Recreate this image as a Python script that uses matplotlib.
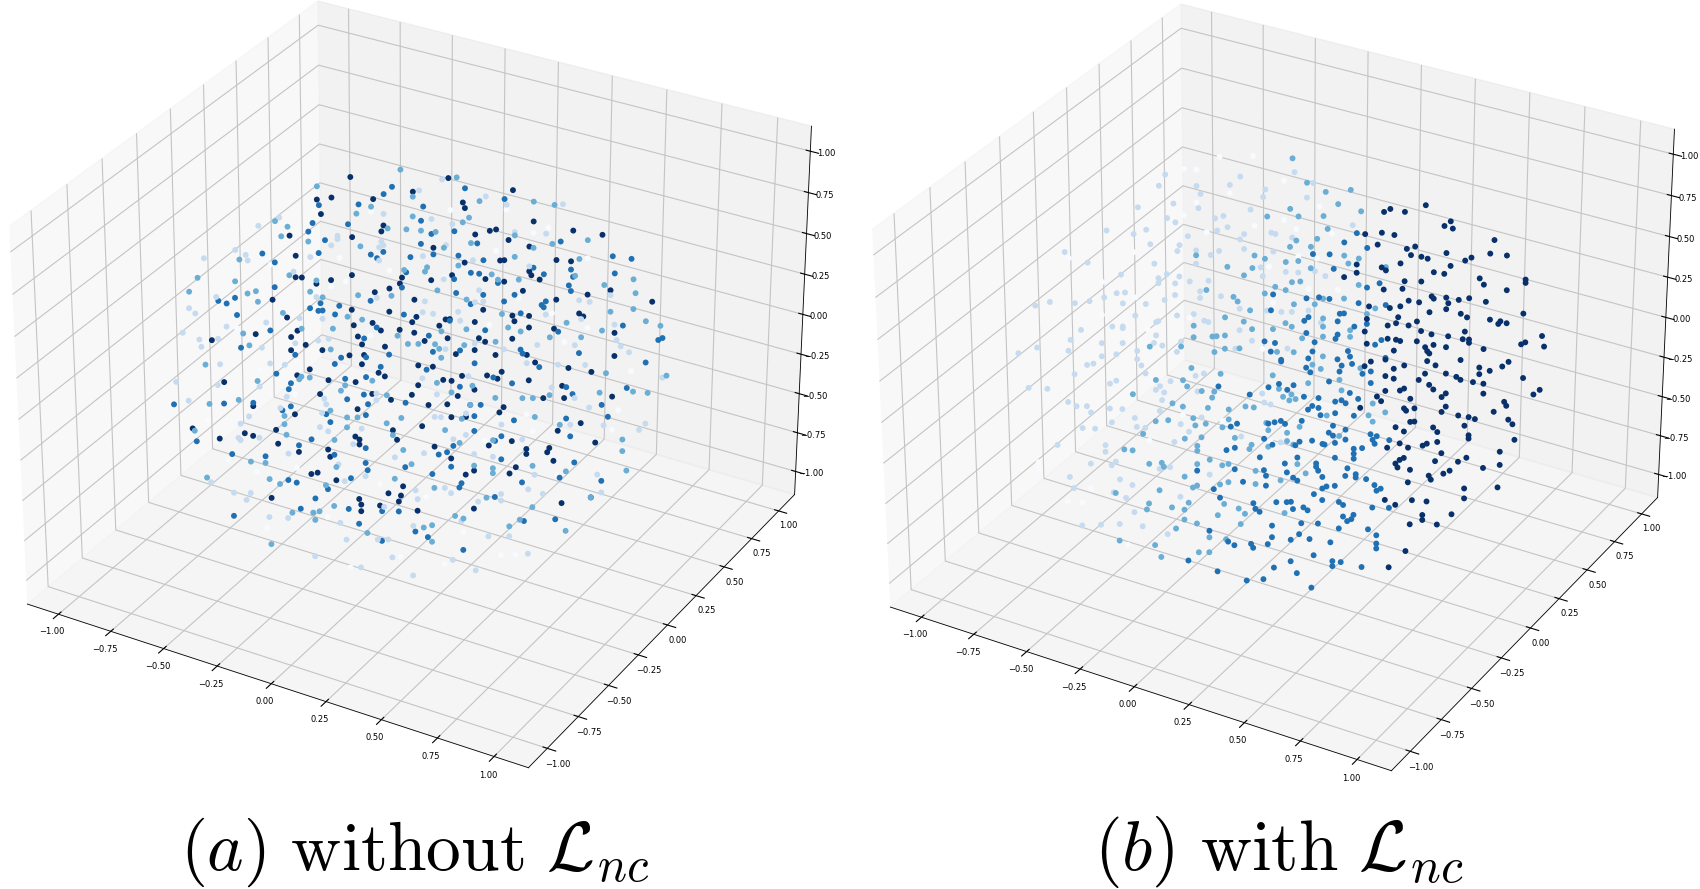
import matplotlib
matplotlib.use('Agg')
import matplotlib.pyplot as plt
import numpy as np

plt.rcParams['mathtext.fontset'] = 'cm'
plt.rcParams['grid.color'] = '#c4c4c4'
plt.rcParams['grid.linewidth'] = 0.8
plt.rcParams['axes.linewidth'] = 0.6

# (x, z) per colour class, taken along the y=0 plane
a_white = [(-.20,.88),(-.35,.54),(-.11,.56),(-.32,.41),(-.68,.37),(-.39,.35),(-.84,-.08),(-.20,.13),
(.18,1.04),(.45,1.15),(.58,1.06),(.65,1.12),(.40,.88),(.84,1.01),(.15,.62),(.51,.64),(.67,.61),(.37,.42),(.84,.59),(.73,.46),
(-.73,-.29),(-.56,-.37),(-.98,-.69),(-.88,-.89),(-.74,-.91),(-.55,-.81),(-.15,-.75),(-.65,-.94),(-.40,-1.05),(-.69,-1.23),(-.29,-1.31),(-.05,-1.15),
(1.05,.41),(.99,.15),(.55,-.05),(.58,-.14),(.35,-.29),(.96,.02),(.16,-1.11),(.43,-.95),(.50,-.92),(.25,-.88),(.70,-.36),(.07,-.74)]

a_light = [(-.64,.67),(-.74,.58),(-.14,.89),(-.36,.67),(-.36,.65),(-.39,.60),(-.15,.72),(-.14,.70),(-.16,.68),(-.85,.39),(-1.00,.28),(-.80,.38),(-.79,.35),(-.49,.49),(-.16,.60),(-.57,.37),(-.94,.07),(-1.07,-.05),(-1.04,-.07),(-.46,.26),(-.17,.37),(-.54,.10),(-.43,.14),(-.70,.01),(-.89,-.09),(-1.10,-.21),(-1.02,-.22),(-.93,-.18),(-1.01,-.26),(-.72,-.15),(-.56,-.06),(-.40,.03),(-.45,0),
(.14,1.21),(.03,1.10),(.35,1.19),(.45,1.18),(.72,1.29),(.09,.95),(.19,.96),(.49,1.03),(.64,1.08),(.16,.82),(.05,.71),(.29,.78),(.56,.85),(.15,.61),(.32,.61),(.95,.83),(.06,.44),(.34,.55),(.30,.53),(.80,.74),(.85,.75),(.05,.37),(.10,.38),(.22,.44),(.64,.59),(.23,.39),(.81,.63),(.97,.66),(.60,.39),(.98,.57),(1.00,.54),(1.04,.52),(.78,.46),(.30,.28),(.16,.19),(.44,.30),
(-1.13,-.52),(-.92,-.33),(-.68,-.23),(-.61,-.21),(-.93,-.46),(-.73,-.39),(-.60,-.40),(-1.07,-.61),(-.42,-.34),(-.41,-.37),(-.17,-.25),(-.17,-.21),(-.63,-.48),(-.78,-.59),(-.43,-.43),(-.82,-.65),(-.44,-.52),(-.24,-.45),(-.40,-.53),(-.83,-.74),(-.82,-.75),(-.73,-.70),(-.28,-.56),(-.59,-.74),(-.08,-.56),(-.35,-.71),(-.22,-.73),(-.32,-.80),(-.96,-1.06),(-.85,-1.08),(-.77,-1.05),(-.79,-1.10),(-.13,-.88),(-.68,-1.16),(-.59,-1.13),(-.34,-1.06),(-.31,-1.15),(-.16,-1.09),(-.11,-1.07),(-.46,-1.31),(-.24,-1.29),(-.09,-1.17),
(.05,-.03),(.27,.07),(.55,.26),(.70,.31),(.83,.36),(1.20,.43),(.12,-.10),(.67,.16),(.78,.14),(.85,.11),(.26,-.16),(.11,-.24),(.14,-.23),(.43,-.16),(.76,-.03),(.92,.03),(1.12,.12),(1.09,.07),(.53,-.21),(.20,-.34),(.26,-.29),(.06,-.48),(.30,-.39),(.39,-.37),(.59,-.40),(.89,-.28),(.16,-.65),(.56,-.50),(.91,-.38),(.63,-.50),(.19,-.67),(.02,-.72),(.03,-.77),(.43,-.58),(.43,-.62),(.32,-.67),(.24,-.82),(.01,-.94),(.37,-.86),(.47,-.82),(.56,-.89),(.20,-1.07),(.31,-1.09),(.01,-1.24)]

a_mid = [(-.06,1.19),(-.46,.93),(-.20,.91),(-.27,.84),(-.66,.64),(-.60,.63),(-.63,.56),(-.12,.81),(-.03,.84),(-.50,.58),(-.25,.65),(-.83,.34),(-1.03,.15),(-.85,.20),(-.59,.34),(-1.07,.05),(-.79,.15),(-.75,.18),(-.74,.12),(-.49,.28),(-.43,.27),(-.26,.35),(-.10,.41),(-.62,.10),(-.31,.20),(-.24,.21),(-.38,.10),(-.53,.04),(-.81,-.10),(-.78,-.16),(-.39,-.03),(-.07,.18),(-.02,.15),(-.04,.59),(-.46,.36),
(.21,1.25),(0,1.05),(.32,1.15),(.58,1.25),(.68,1.27),(.27,1.03),(.24,.99),(0,.93),(.04,.86),(.11,.88),(.49,1.01),(.28,.88),(.15,.80),(.67,1.03),(.84,1.12),(.58,.97),(.49,.88),(.80,.99),(.07,.65),(.22,.72),(.06,.62),(.38,.73),(.41,.71),(.51,.75),(.78,.88),(.12,.53),(.92,.88),(1.06,.97),(1.07,.89),(.26,.53),(.43,.51),(1.06,.79),(.95,.73),(.74,.58),(1.12,.74),(1.19,.74),(.26,.35),(.46,.44),(.14,.29),(.52,.44),(.91,.60),(.66,.46),(.81,.52),(.11,.20),(.03,.17),(.25,.25),(.40,.33),(.13,.18),(.14,.13),
(-.99,-.36),(-.74,-.36),(-.54,-.27),(-.53,-.25),(-.49,-.24),(-.19,-.14),(-.32,-.22),(-.34,-.26),(-.83,-.51),(-.97,-.59),(-.39,-.40),(-.12,-.20),(-.61,-.52),(-.61,-.57),(-.31,-.41),(-.26,-.39),(-.12,-.37),(-.05,-.31),(-.31,-.47),(-1.04,-.78),(-.60,-.63),(-.09,-.43),(-.37,-.57),(-.77,-.86),(-.70,-.84),(-.04,-.50),(-.36,-.73),(-.68,-.93),(-.08,-.69),(-.98,-1.04),(-.63,-.94),(-.41,-.86),(-.37,-.97),(-.57,-1.09),(-.47,-1.05),(-.44,-1.03),(-.46,-1.09),(-.21,-1.07),(-.67,-1.32),
(.12,-.03),(.19,-.06),(.29,.02),(.40,-.01),(.53,.04),(.58,.06),(.66,.11),(.90,.22),(.93,.35),(1.06,.29),(1.13,.31),(1.22,.45),(.28,-.10),(.24,-.20),(.59,-.05),(.71,-.05),(.16,-.30),(.39,-.27),(.23,-.35),(1.01,-.02),(1.01,-.09),(.58,-.35),(.30,-.46),(.39,-.44),(.39,-.47),(1.03,-.20),(.74,-.32),(.11,-.67),(.86,-.43),(.36,-.63),(.21,-.80),(.25,-.80),(.58,-.60),(.06,-.93),(.10,-.90),(.47,-.76),(.52,-.70),(.74,-.68),(.10,-1.00),(0,-.57)]

a_blue = [(-.10,1.07),(-.14,1.01),(-.45,.82),(-.26,.90),(-.48,.70),(-.50,.64),(-.42,.62),(-.31,.76),(-.72,.42),(-.66,.39),(-.45,.53),(-.20,.62),(-.17,.61),(-.14,.66),(-.01,.68),(-.66,.24),(-.85,.10),(-.93,.05),(-.89,.05),(-.84,0),(-.49,.18),(-.44,.23),(-.45,.18),(-.43,.19),(-.35,.25),(-.37,.19),(-.20,.34),(-.17,.19),(-.68,-.03),(-.82,-.19),(-.56,-.13),(-.23,.10),(-.11,.05),(-.04,.32),(-.05,.48),(-.03,.58),(-.34,-.06),(-.22,-.01),
(.25,1.20),(.44,1.21),(.05,1.01),(.04,.92),(.20,.92),(.09,.86),(.31,.89),(.04,.78),(.10,.74),(.22,.78),(.34,.80),(.71,1.06),(.96,1.07),(1.05,1.09),(.58,.85),(.76,.91),(.28,.70),(.32,.71),(.63,.83),(.20,.63),(.97,.97),(.77,.87),(.41,.69),(.75,.81),(.76,.78),(.21,.55),(.34,.59),(.49,.65),(.44,.59),(.28,.51),(.64,.67),(.62,.64),(.63,.63),(.52,.55),(.18,.37),(1.01,.67),(.70,.51),(.35,.38),(.08,.24),(.23,.21),(.10,.15),(.52,.33),(.53,.31),(.80,.42),(1.18,.65),(1.20,.67),
(-1.14,-.66),(-.90,-.56),(-.76,-.50),(-.65,-.28),(-.58,-.31),(-.59,-.35),(-.37,-.11),(-.15,-.04),(-.32,-.18),(-.22,-.13),(-.23,-.24),(-.31,-.30),(-.58,-.45),(-.62,-.49),(-.41,-.43),(-.21,-.29),(-.22,-.36),(-.39,-.47),(-.03,-.21),(-1.03,-.84),(-.48,-.61),(-.54,-.67),(-.86,-.85),(-.70,-.80),(-.37,-.66),(-.22,-.56),(-.22,-.65),(-.21,-.69),(-.59,-.90),(-.55,-.90),(-.29,-.77),(-.40,-.88),(-.85,-1.22),(-.46,-.96),(-.53,-1.05),(-.30,-.96),(-.14,-.91),(-.06,-.88),(-.25,-1.03),(-.14,-1.09),(-.03,-.60),
(.07,.03),(.30,.16),(.61,.26),(.39,.11),(.23,-.01),(1.12,.49),(1.03,.30),(.74,.19),(.48,.11),(.77,.16),(.91,.15),(.33,-.08),(.28,-.10),(.94,.09),(.49,-.11),(.74,0),(.30,-.16),(.30,-.25),(.76,-.10),(.43,-.23),(.40,-.27),(.20,-.38),(.13,-.46),(.17,-.43),(.43,-.37),(.78,-.25),(.19,-.51),(.10,-.59),(.71,-.37),(.53,-.47),(.91,-.31),(.24,-.59),(.23,-.62),(.40,-.61),(.02,-.97),(.08,-.98),(.25,-.99),(.69,-.63),(.54,-.70)]

a_dark = [(-.30,1.05),(-.39,.89),(-.46,.85),(-.19,.96),(-.44,.77),(-.59,.58),(-.14,.82),(-.15,.78),(-.29,.69),(-.56,.47),(-.56,.34),(-.53,.35),(-.39,.39),(-.46,.34),(-.29,.46),(-.05,.54),(-.06,.50),(-.18,.40),(-.11,.45),(-.67,.16),(-.29,.25),(-.11,.31),(-.60,.08),(-.28,.16),(-.19,.21),(-.15,.18),(-.06,.22),(-.75,-.08),(-.55,.02),(-.58,-.03),(-.26,.10),(-.96,-.20),(-.51,-.05),(-.24,.06),(-.58,-.11),(-.43,-.05),(-.13,.09),(-.30,-.03),(-.23,0),
(.17,1.23),(0,1.08),(.48,1.28),(.24,1.11),(.25,1.08),(.58,1.13),(.37,.99),(.40,1.01),(.30,.94),(.46,.97),(.77,1.15),(.91,1.18),(.56,.97),(.10,.78),(.69,.94),(.76,.96),(.42,.83),(.44,.84),(.25,.75),(.56,.82),(.57,.80),(.19,.65),(.09,.58),(.35,.69),(.44,.71),(.61,.79),(.95,.86),(.53,.69),(.84,.79),(.69,.70),(1.15,.87),(.01,.43),(.34,.50),(.80,.66),(.82,.65),(.56,.55),(.48,.52),(.02,.33),(.16,.37),(.18,.38),(.30,.41),(.49,.49),(0,.29),(.13,.32),(.56,.48),(.68,.52),(.97,.61),(.01,.23),(.17,.26),(.32,.32),(.35,.31),(.48,.38),(.06,.20),(.30,.24),(.40,.25),(.55,.31),(.97,.47),(.21,.18),
(-.90,-.43),(-.55,-.25),(-.49,-.19),(-.40,-.22),(-.27,-.18),(-.16,-.08),(-.13,-.09),(-.24,-.06),(-.44,-.32),(-.19,-.22),(-.10,-.22),(-.76,-.52),(-.56,-.49),(-.26,-.34),(-1.05,-.77),(-.92,-.78),(-.80,-.70),(-.76,-.70),(-.65,-.62),(-.64,-.70),(-.27,-.51),(-.25,-.52),(-.25,-.55),(-.09,-.40),(-.07,-.45),(-.40,-.64),(-.39,-.68),(-.54,-.71),(-.48,-.82),(-.45,-.80),(-.36,-.81),(-.67,-1.04),(-.25,-.88),(-.24,-.91),(-.24,-.95),(-.15,-.88),(-.11,-.79),(-.04,-.72),(-.05,-.78),(-.06,-.82),
(.03,.04),(.10,.06),(.24,.06),(.36,.11),(.41,.11),(.43,.16),(.15,0),(.19,.01),(.03,-.08),(.56,.16),(.59,.28),(.75,.31),(.86,.33),(.30,0),(.22,-.07),(0,-.15),(.72,.19),(.73,.12),(.63,.08),(.96,.22),(.08,-.18),(.17,-.14),(.44,-.05),(.42,-.09),(.19,-.21),(.26,-.18),(.81,0),(.70,-.09),(.05,-.32),(.48,-.24),(.37,-.31),(.11,-.42),(.88,-.09),(.55,-.26),(.55,-.29),(.66,-.21),(.65,-.24),(.68,-.28),(.19,-.46),(.50,-.39),(.30,-.49),(.26,-.53),(.47,-.44),(.30,-.72),(.72,-.52),(.03,-.84),(.86,-.43)]

b_white = [(-.42,1.07),(-.36,1.09),(-.25,1.21),(-.09,1.28),(-.20,1.01),(-.36,.89),(-.42,.79),(-.31,.73),(-.66,.47),(-.97,.31),(-.81,.23),(-.65,.20),(-.81,.03),(-.59,.03),(-.08,.86),(-.39,.18),
(.06,1.19),(.23,1.10),(.06,.95),(.12,.92),(.29,.96),(.13,.76),(-.01,.64),(.22,.78),(.18,.58),(.32,.63),(.01,.43),(-.04,.13),
(-1.11,-.98),(-1.11,-1.02),(-.58,-.64),(-.97,-1.16),(-.90,-1.14),(-.68,-1.31),(-.86,-1.04),(-.42,-.42),(-.23,-.38),(0,-.41)]

b_light = [(-.51,1.00),(-.54,.92),(-.15,1.13),(-.20,1.06),(-.36,.99),(-.34,.95),(-.47,.84),(-.64,.75),(-.35,.86),(-.10,.95),(-.27,.83),(-.23,.86),(-.50,.74),(-.46,.73),(-.21,.80),(-.26,.76),(-.79,.55),(-.66,.58),(-.60,.63),(-.40,.67),(-.15,.75),(-.13,.79),(-.58,.55),(-.44,.60),(-.45,.56),(-.36,.60),(-.25,.64),(-.13,.70),(-.99,.34),(-.29,.60),(-.88,.32),(-.36,.52),(-.56,.44),(-.72,.31),(-.50,.40),(-.54,.36),(-.54,.33),(-.44,.41),(-.46,.36),(-.39,.40),(-.30,.44),(-.74,.19),(-.70,.21),(-.80,.14),(-.46,.29),(-.34,.36),(-.24,.37),(-1.13,-.04),(-1.06,.01),(-.94,.05),(-.87,.09),(-.71,.14),(-.60,.18),(-.51,.24),(-.34,.32),(-.15,.33),(-.65,.09),(-.45,.17),(-.37,.21),(-.76,-.02),(-.71,0),(-.71,-.01),(-.55,.09),(-.54,.10),(-.32,.19),(-.30,.19),(-.91,-.10),(-.15,.20),(-.55,.01),(-.96,-.18),(-.81,-.14),(-.71,-.10),(-.56,-.04),(-.52,-.04),(-.43,.02),(-.09,.16),(-1.12,-.29),(-.97,-.25),(-.64,-.12),(-1.21,-.36),(-.81,-.22),(-.74,-.18),(-.45,-.05),(-.64,-.17),(-.17,.08),
(.11,1.26),(.20,1.23),(-.03,1.10),(-.04,1.05),(.17,1.13),(.39,1.05),(0,.85),(.02,.85),(.10,.86),(.01,.74),(.07,.64),(.13,.66),(.21,.70),(.26,.69),(-.05,.62),(-.04,.57),(.05,.39),(.10,.41),(.18,.45),(.24,.40),(-.02,.37),(.08,.18),
(-.88,-.30),(-.85,-.28),(-.94,-.38),(-.62,-.20),(-.60,-.24),(-1.16,-.55),(-1.07,-.52),(-.77,-.37),(-.74,-.34),(-.48,-.24),(-.36,-.16),(-.32,-.13),(-.55,-.32),(-.53,-.29),(-.51,-.32),(-.97,-.56),(-.93,-.57),(-.88,-.55),(-.86,-.58),(-.77,-.52),(-.71,-.50),(-.52,-.37),(-.53,-.44),(-.35,-.25),(-.65,-.53),(-.76,-.60),(-.90,-.69),(-.84,-.67),(-.64,-.58),(-.60,-.57),(-.43,-.48),(-.33,-.40),(-.39,-.51),(-.46,-.60),(-1.02,-.84),(-.79,-.75),(-.79,-.79),(-.86,-.89),(-.76,-.86),(-.74,-.83),(-.53,-.79),(-.48,-.76),(-.96,-1.01),(-.72,-.93),(-.66,-.94),(-.94,-1.07),(-.75,-1.02),(-.69,-1.03),(-.43,-.92),(-.65,-1.10),(-.90,-1.28),(-.81,-1.24),(-.72,-1.20),(-.61,-1.17),(-.49,-1.17),(-.29,-.73),(-.14,-.44),
(-.03,-.19),(0,-.19),(.05,-.40),(-.04,-.14)]

b_mid = [(-.36,.57),(-.08,.68),(-.21,.56),(-.09,.60),(-.13,.54),(-.31,.38),(-.18,.39),(-.16,.37),(-.10,.34),(-.22,.25),(-.13,.26),(-.09,.23),(-.37,.14),(-.37,.07),(-.28,.11),(-.26,.12),(-.22,.14),(-.58,-.07),(-.43,-.01),(-.22,.06),(-.15,.09),(-.27,.02),
(.10,1.34),(.17,1.22),(.38,1.26),(.26,1.20),(.32,1.15),(.09,1.03),(.43,1.15),(.13,1.00),(.25,1.05),(-.02,.94),(.27,.98),(.22,.90),(.12,.85),(.09,.80),(.19,.84),(.35,.85),(.42,.86),(.37,.81),(-.03,.68),(.07,.70),(.13,.73),(.19,.71),(.55,.86),(.10,.59),(.14,.61),(.42,.70),(.02,.53),(.07,.53),(-.03,.47),(.35,.59),(.25,.55),(.11,.46),(.21,.50),(.50,.59),(.46,.54),(.25,.43),(.07,.33),(.10,.32),(.01,.27),(.25,.38),(.38,.41),(.25,.32),(.38,.37),(.15,.27),(.03,.14),(.11,.17),(.25,.20),
(-.55,-.26),(-.42,-.21),(-.38,-.12),(-.40,-.24),(-.24,-.10),(-.33,-.24),(-.27,-.22),(-.28,-.26),(-.66,-.39),(-.47,-.37),(-.42,-.37),(-.30,-.33),(-.20,-.30),(-.12,-.25),(-.08,-.24),(-.55,-.51),(-.49,-.48),(-.37,-.42),(-.36,-.46),(-.31,-.43),(-.23,-.42),(-.20,-.36),(-.61,-.61),(-.41,-.56),(-.33,-.52),(-.17,-.46),(-.70,-.74),(-.66,-.73),(-.35,-.58),(-.35,-.61),(-.29,-.64),(-.09,-.47),(-.10,-.50),(-.58,-.78),(-.52,-.75),(-.51,-.77),(-.35,-.69),(-.23,-.65),(-.20,-.63),(-.41,-.79),(-.07,-.62),(-.35,-.82),(-.37,-.84),(-.24,-.77),(-.20,-.74),(-.07,-.70),(-.53,-.92),(-.74,-1.02),(-.58,-1.02),(-.39,-.94),(-.22,-.88),(-.47,-1.00),(-.59,-1.06),(-.41,-.99),(-.15,-.88),(-.12,-.90),(-.25,-.96),(-.41,-1.05),(-.35,-1.05),(-.14,-.97),(-.45,-1.12),(-.29,-1.11),(-.72,-1.30),(-.21,-1.09),(-.55,-1.26),(-.34,-1.22),(-.29,-1.20),(-.52,-1.32),
(.20,.13),(.01,-.01),(.33,.09),(.18,.01),(.04,-.08),(.10,-.09),(.06,-.12),(.12,-.11),(.09,-.13),(.34,.03),(.24,.12),(.43,.20),(.49,.01),(.55,-.02),(.27,-.15),(.47,-.07),(.49,-.10),(-.02,-.31),(.14,-.27),(-.01,-.35),(.08,-.33),(.33,-.25),(.08,-.38),(-.01,-.45),(.11,-.39),(.13,-.50),(.17,-.54),(.05,-.63),(.07,-.82)]

b_blue = [(.35,.93),(.41,1.01),(.46,.94),(.20,.80),(.28,.83),(.30,.75),(.52,.75),(.46,.70),(.17,.52),(.23,.55),(.28,.56),(.42,.59),(.55,.63),(.01,.48),(0,.38),(.35,.50),(.33,.49),(.18,.41),(.16,.38),(.32,.44),(.46,.48),(.40,.44),(.17,.31),(.32,.36),(.31,.33),(-.03,.18),(.02,.19),(.21,.27),(.53,.41),(.50,.37),(0,.13),(.20,.21),(.37,.28),(.05,.10),(.18,.16),(.38,.25),(.32,.21),(.55,.31),
(-.25,-.18),(-.10,-.17),(-.19,-.40),(-.16,-.37),(-.21,-.55),(-.17,-.52),(-.35,-.73),(-.17,-.65),(-.13,-.71),(-.27,-.81),(-.24,-.85),(-.08,-.82),(-.07,-.85),(-.29,-1.07),(-.20,-1.10),(-.17,-1.11),(-.09,-1.07),(-.08,-1.09),(-.39,-1.29),(-.25,-1.30),(-.11,-1.30),
(.05,.09),(.17,.10),(.19,.08),(.34,.18),(.39,.21),(.33,.14),(.44,.17),(.48,.20),(.28,.06),(.48,.13),(.04,-.05),(-.01,-.09),(.08,-.07),(.11,-.03),(.16,-.08),(.23,-.06),(.38,.03),(.42,.01),(.34,-.03),(.31,-.05),(.36,-.04),(.20,-.12),(.18,-.15),(.23,-.12),(.31,-.12),(.24,-.16),(.40,-.10),(.02,-.29),(.05,-.27),(-.01,-.31),(.07,-.28),(.15,-.23),(.30,-.20),(.36,-.20),(.28,-.25),(.30,-.26),(-.03,-.41),(.01,-.43),(.14,-.36),(.20,-.33),(.12,-.39),(.25,-.33),(.26,-.33),(.31,-.30),(.36,-.26),(.49,-.21),(.50,-.23),(.51,-.18),(.48,-.18),(.57,-.18),(.44,-.28),(.40,-.30),(.40,-.33),(.31,-.39),(.40,-.36),(.13,-.46),(-.05,-.53),(.07,-.52),(.22,-.46),(.22,-.48),(.23,-.50),(.37,-.43),(-.03,-.60),(-.02,-.63),(.08,-.57),(.11,-.59),(.13,-.60),(.25,-.53),(.36,-.48),(.41,-.45),(.41,-.47),(.46,-.46),(.50,-.48),(.31,-.56),(.27,-.58),(.25,-.60),(-.02,-.69),(.51,-.51),(.53,-.49),(.21,-.65),(.25,-.67),(.33,-.65),(.35,-.66),(.49,-.62),(.57,-.59),(.03,-.77),(.08,-.75),(.10,-.74),(.11,-.78),(.16,-.75),(.18,-.76),(-.05,-.86),(.15,-.85),(.23,-.82),(.01,-.92),(.35,-.73),(.40,-.70),(.39,-.73),(.37,-.75),(.33,-.81),(.47,-.76),(.14,-.92),(.01,-.99),(.10,-.97),(.19,-.93),(-.01,-1.04),(.29,-.91),(.51,-.78),(.51,-.83),(.51,-.86),(.21,-1.02),(.10,-1.10),(.30,-1.02),(.30,-1.05),(.34,-1.01),(.44,-1.00),(.02,-1.17),(.13,-1.16),(-.03,-1.26),(.20,-1.22)]

b_dark = [(.74,1.31),(.57,1.22),(.54,1.19),(.64,1.23),(.86,1.26),(.83,1.22),(.87,1.22),(1.07,1.23),(.53,1.06),(.59,1.07),(.45,1.02),(.51,.98),(.65,1.01),(.69,1.04),(.67,.98),(.84,1.06),(.72,.99),(.75,.99),(1.05,1.14),(1.13,1.16),(.96,1.08),(.93,1.05),(.62,.91),(.41,.82),(.86,.99),(.53,.85),(.55,.84),(.78,.92),(.83,.93),(.41,.77),(.35,.72),(1.00,.97),(1.02,.94),(1.22,1.05),(1.22,1.03),(.72,.84),(.64,.81),(.63,.76),(.54,.72),(1.13,.95),(.77,.77),(.78,.76),(.84,.79),(.85,.76),(.90,.80),(.95,.83),(1.03,.84),(.66,.70),(.71,.71),(.62,.65),(.47,.59),(.57,.62),(.84,.72),(.76,.67),(.91,.72),(.94,.71),(1.21,.84),(.61,.58),(1.05,.74),(1.10,.75),(1.13,.75),(1.09,.73),(.70,.59),(.66,.55),(.60,.54),(.56,.51),(.46,.51),(.45,.43),(.72,.54),(.93,.62),(.77,.54),(.85,.56),(.92,.57),(.95,.58),(.95,.56),(1.30,.74),(1.31,.68),(1.20,.65),(1.22,.67),(.56,.43),(.60,.44),(.62,.44),(.46,.36),(.70,.47),(.74,.45),(.78,.48),(.84,.49),(.59,.37),(.75,.43),(.76,.42),(1.02,.55),
(.45,.22),(.48,.26),(.55,.30),(.59,.26),(.64,.30),(.75,.37),(.79,.36),(.91,.44),(1.00,.43),(1.11,.48),(1.14,.52),(1.05,.43),(.74,.29),(.84,.33),(.55,.20),(.59,.20),(.71,.24),(.89,.33),(.91,.32),(1.00,.39),(.97,.33),(1.02,.34),(1.21,.45),(.76,.23),(.78,.21),(1.29,.41),(1.26,.37),(1.02,.28),(.64,.16),(.62,.14),(.55,.11),(.51,.06),(.84,.21),(.82,.18),(.67,.11),(.53,.04),(1.12,.27),(1.13,.25),(.84,.13),(.43,-.04),(.69,.06),(.64,.04),(.65,.03),(.82,.09),(1.07,.19),(.90,.10),(.95,.11),(.98,.11),(.67,-.03),(.69,-.02),(1.14,.17),(1.16,.15),(.93,.05),(.60,-.09),(.78,-.02),(.64,-.10),(.80,-.04),(.95,0),(.95,-.02),(1.17,.06),(.80,-.10),(.62,-.18),(.75,-.13),(.73,-.15),(.66,-.19),(.56,-.23),(.82,-.16),(1.10,-.04),(.94,-.14),(.90,-.18),(.79,-.22),(.64,-.26),(.62,-.28),(.60,-.31),(.61,-.33),(.67,-.32),(1.10,-.12),(1.02,-.17),(.86,-.25),(.83,-.28),(.76,-.32),(.77,-.34),(.66,-.40),(.93,-.33),(1.09,-.26),(.93,-.39),(.55,-.55),(.60,-.56),(.68,-.50),(.75,-.48),(.87,-.51),(.73,-.57),(.73,-.60),(.67,-.65),(.80,-.60),(.65,-.82),(.57,-.95)]

ticks = [-1.0, -0.75, -0.5, -0.25, 0.0, 0.25, 0.5, 0.75, 1.0]
lim = [-1.15, 1.15]
W, H = 1700, 889
side = 892

fig = plt.figure(figsize=(W / 100, H / 100), dpi=100)

def panel(cx, cy, groups, x_off):
    ax = fig.add_axes([(cx - side / 2) / W, 1 - (cy + side / 2) / H, side / W, side / H],
                      projection='3d')
    ax.patch.set_visible(False)
    for label, pts in enumerate(groups):
        pts = np.array(pts)
        # depth is unreadable, so move the readings onto the plane through 0 that faces the camera
        z = 0.764 * pts[:, 1] - 0.303 * pts[:, 0] - 0.019
        x = 0.724 * pts[:, 0] - 0.213 * z - x_off
        y = 0.577 * x + 0.5 * z
        ax.scatter(x, y, z, c=[label] * len(pts), cmap='Blues',
                   vmin=0, vmax=4, s=18, linewidths=0, depthshade=False)
    ax.set_xlim(lim)
    ax.set_ylim(lim)
    ax.set_zlim(lim)
    ax.set_xticks(ticks)
    ax.set_yticks(ticks)
    ax.set_zticks(ticks)
    ax.tick_params(labelsize=6, pad=-1)
    return ax

ax1 = panel(406, 378, [a_white, a_light, a_mid, a_blue, a_dark], 0.021)
ax2 = panel(1269, 381, [b_white, b_light, b_mid, b_blue, b_dark], 0.036)

fig.text(415 / W, 1 - 870 / H, r'$(a)\ \mathrm{without}\ \mathcal{L}_{nc}$', fontsize=50, ha='center', va='baseline')
fig.text(1279 / W, 1 - 870 / H, r'$(b)\ \mathrm{with}\ \mathcal{L}_{nc}$', fontsize=51, ha='center', va='baseline')

fig.savefig('out.png', dpi=100)
